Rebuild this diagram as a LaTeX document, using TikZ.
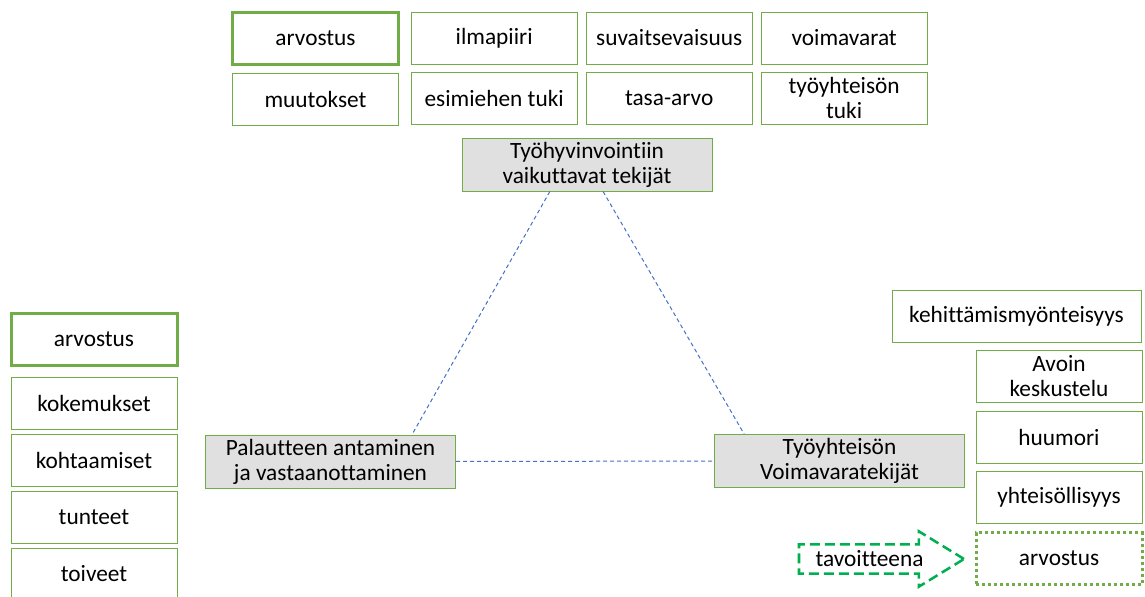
\documentclass[tikz,border=0pt]{standalone}
\usepackage{fontspec}
\setmainfont[RawFeature=-liga]{Carlito}
\usetikzlibrary{positioning, calc, shapes.arrows}
\definecolor{lehti}{HTML}{70AD47}
\definecolor{kirkas}{HTML}{00B050}
\definecolor{viiva}{HTML}{4472C4}
\definecolor{harmaa}{HTML}{E0E0E0}

\begin{document}
\begin{tikzpicture}[
    x=0.75pt, y=-0.75pt,
    node distance=5.5pt and 6pt,
    kortti/.style={rectangle, draw=lehti, line width=0.75pt, fill=white,
                   minimum width=124.5pt, minimum height=39pt, inner sep=1pt,
                   text centered, align=center,
                   font=\fontsize{17.5}{18.75}\selectfont},
    vahva/.style={kortti, line width=2.25pt},
    pisteet/.style={kortti, line width=2.25pt,
                    dash pattern=on 2.25pt off 2.25pt},
    teema/.style={kortti, fill=harmaa, minimum width=187.5pt,
                  minimum height=39.75pt},
    yhteys/.style={viiva, line width=0.75pt, dash pattern=on 3pt off 2.25pt},
    nuoli/.style={single arrow, draw=kirkas, line width=1.9pt,
                  dash pattern=on 7.5pt off 3.75pt, fill=white,
                  minimum height=123.75pt, minimum width=40.5pt,
                  single arrow head extend=9.75pt, single arrow tip angle=63,
                  inner xsep=2pt, inner ysep=4pt,
                  font=\fontsize{17.5}{18.75}\selectfont}
  ]
  \useasboundingbox (0,0) rectangle (1145,596);

  % top group
  \node[vahva] (arv1) at (315.5,38) {arvostus};
  \node[kortti, right=8pt of arv1] (ilma) {ilmapiiri};
  \node[kortti, right=of ilma] (suva) {suvaitsevaisuus};
  \node[kortti, right=of suva] (voima) {voimavarat};
  \node[kortti, below=of arv1]  (muut) {muutokset};
  \node[kortti, below=of ilma]  (esim) {esimiehen tuki};
  \node[kortti, below=of suva]  (tasa) {tasa-arvo};
  \node[kortti, below=of voima] (tyotuki) {työyhteisön\\ tuki};

  % the three themes
  \node[teema] (tekijat) at (587,164.5) {Työhyvinvointiin\\ vaikuttavat tekijät};
  \node[teema] (palaute) at (330.5,461.5) {Palautteen antaminen\\ ja vastaanottaminen};
  \node[teema] (yhteiso) at (839.5,461) {Työyhteisön\\ Voimavaratekijät};

  % left group
  \node[vahva] (arv2) at (94,339) {arvostus};
  \node[kortti, below=7.5pt of arv2] (koke) {kokemukset};
  \node[kortti, below=3pt of koke] (kohta) {kohtaamiset};
  \node[kortti, below=3pt of kohta] (tunne) {tunteet};
  \node[kortti, below=3pt of tunne] (toive) {toiveet};

  % right group
  \node[kortti, minimum width=186.75pt] (kehi) at (1016.5,316.5) {kehittämismyönteisyys};
  \node[kortti] (avoin) at (1059,376.5) {Avoin\\ keskustelu};
  \node[kortti, below=5.75pt of avoin] (huumori) {huumori};
  \node[kortti, below=5.25pt of huumori] (yhteis) {yhteisöllisyys};
  \node[pisteet, below=5.6pt of yhteis] (arv3) {arvostus};
  \node[nuoli] (tavoite) at (869.5,559) {tavoitteena};

  % Triangle
  \draw[yhteys] ($(tekijat.south west)!0.352!(tekijat.south east)$)
    -- ($(palaute.north west)!0.825!(palaute.north east)$);
  \draw[yhteys] ($(tekijat.south west)!0.564!(tekijat.south east)$)
    -- ($(yhteiso.north west)!0.12!(yhteiso.north east)$);
  \draw[yhteys] (palaute) -- (yhteiso);
\end{tikzpicture}
\end{document}
